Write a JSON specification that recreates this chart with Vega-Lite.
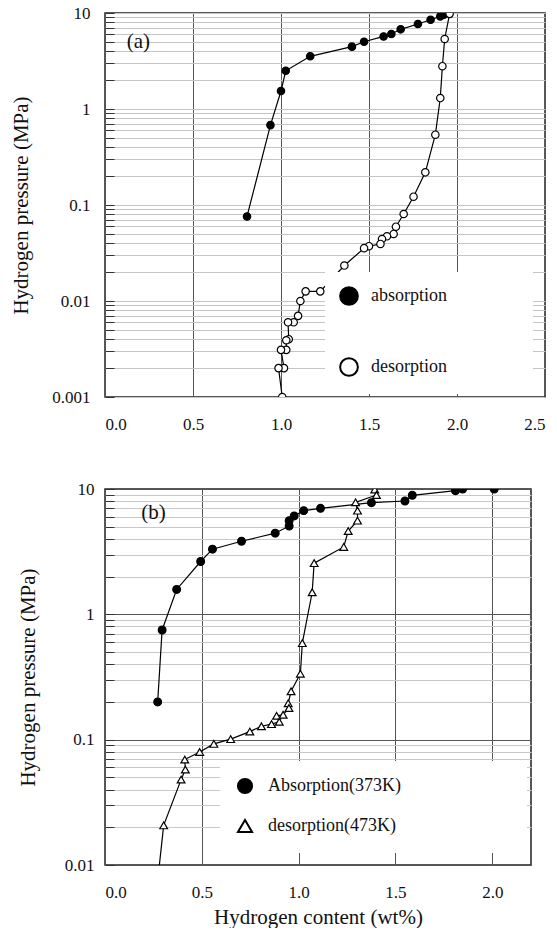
{
  "$schema": "https://vega.github.io/schema/vega-lite/v6.json",
  "background": "white",
  "padding": {"left": 10, "top": 3, "right": 0, "bottom": 0},
  "spacing": 46,
  "config": {
    "font": "Liberation Serif",
    "view": {"stroke": "#222", "strokeWidth": 1.5},
    "text": {"font": "Liberation Serif"},
    "axis": {
      "labelFont": "Liberation Serif", "titleFont": "Liberation Serif",
      "labelFontSize": 17, "titleFontSize": 21, "titleFontWeight": "normal",
      "labelColor": "#111", "titleColor": "#111", "domain": false, "grid": true
    },
    "legend": {"labelFont": "Liberation Serif"}
  },
  "datasets": {
    "a": [
      {"series": "absorption", "order": 1, "x": 0.807, "y": 0.076},
      {"series": "absorption", "order": 2, "x": 0.94, "y": 0.68},
      {"series": "absorption", "order": 3, "x": 1.0, "y": 1.54},
      {"series": "absorption", "order": 4, "x": 1.027, "y": 2.5},
      {"series": "absorption", "order": 5, "x": 1.166, "y": 3.54},
      {"series": "absorption", "order": 6, "x": 1.403, "y": 4.46},
      {"series": "absorption", "order": 7, "x": 1.472, "y": 5.02},
      {"series": "absorption", "order": 8, "x": 1.583, "y": 5.7},
      {"series": "absorption", "order": 9, "x": 1.627, "y": 6.04},
      {"series": "absorption", "order": 10, "x": 1.68, "y": 6.76},
      {"series": "absorption", "order": 11, "x": 1.778, "y": 7.68},
      {"series": "absorption", "order": 12, "x": 1.85, "y": 8.51},
      {"series": "absorption", "order": 13, "x": 1.905, "y": 9.23},
      {"series": "absorption", "order": 14, "x": 1.925, "y": 9.6},
      {"series": "desorption", "order": 1, "x": 1.958, "y": 9.8},
      {"series": "desorption", "order": 2, "x": 1.93, "y": 5.36},
      {"series": "desorption", "order": 3, "x": 1.917, "y": 2.79},
      {"series": "desorption", "order": 4, "x": 1.905, "y": 1.3},
      {"series": "desorption", "order": 5, "x": 1.877, "y": 0.54},
      {"series": "desorption", "order": 6, "x": 1.82, "y": 0.219},
      {"series": "desorption", "order": 7, "x": 1.753, "y": 0.122},
      {"series": "desorption", "order": 8, "x": 1.697, "y": 0.0806},
      {"series": "desorption", "order": 9, "x": 1.653, "y": 0.0594},
      {"series": "desorption", "order": 10, "x": 1.64, "y": 0.0499},
      {"series": "desorption", "order": 11, "x": 1.602, "y": 0.0472},
      {"series": "desorption", "order": 12, "x": 1.574, "y": 0.0442},
      {"series": "desorption", "order": 13, "x": 1.565, "y": 0.0393},
      {"series": "desorption", "order": 14, "x": 1.5, "y": 0.0372},
      {"series": "desorption", "order": 15, "x": 1.472, "y": 0.0355},
      {"series": "desorption", "order": 16, "x": 1.36, "y": 0.0234},
      {"series": "desorption", "order": 17, "x": 1.223, "y": 0.0126},
      {"series": "desorption", "order": 18, "x": 1.14, "y": 0.0126},
      {"series": "desorption", "order": 19, "x": 1.11, "y": 0.01},
      {"series": "desorption", "order": 20, "x": 1.097, "y": 0.007},
      {"series": "desorption", "order": 21, "x": 1.072, "y": 0.006},
      {"series": "desorption", "order": 22, "x": 1.04, "y": 0.006},
      {"series": "desorption", "order": 23, "x": 1.044, "y": 0.004},
      {"series": "desorption", "order": 24, "x": 1.03, "y": 0.0039},
      {"series": "desorption", "order": 25, "x": 1.03, "y": 0.0031},
      {"series": "desorption", "order": 26, "x": 1.0, "y": 0.0031},
      {"series": "desorption", "order": 27, "x": 1.017, "y": 0.002},
      {"series": "desorption", "order": 28, "x": 0.986, "y": 0.002},
      {"series": "desorption", "order": 29, "x": 1.007, "y": 0.001}
    ],
    "b": [
      {"series": "Absorption(373K)", "order": 1, "x": 0.272, "y": 0.2},
      {"series": "Absorption(373K)", "order": 2, "x": 0.295, "y": 0.75},
      {"series": "Absorption(373K)", "order": 3, "x": 0.37, "y": 1.58},
      {"series": "Absorption(373K)", "order": 4, "x": 0.494, "y": 2.64},
      {"series": "Absorption(373K)", "order": 5, "x": 0.555, "y": 3.31},
      {"series": "Absorption(373K)", "order": 6, "x": 0.705, "y": 3.83},
      {"series": "Absorption(373K)", "order": 7, "x": 0.879, "y": 4.44},
      {"series": "Absorption(373K)", "order": 8, "x": 0.951, "y": 5.07},
      {"series": "Absorption(373K)", "order": 9, "x": 0.951, "y": 5.59},
      {"series": "Absorption(373K)", "order": 10, "x": 0.977, "y": 6.1},
      {"series": "Absorption(373K)", "order": 11, "x": 1.026, "y": 6.72},
      {"series": "Absorption(373K)", "order": 12, "x": 1.113, "y": 7.01},
      {"series": "Absorption(373K)", "order": 13, "x": 1.376, "y": 7.78},
      {"series": "Absorption(373K)", "order": 14, "x": 1.549, "y": 8.02},
      {"series": "Absorption(373K)", "order": 15, "x": 1.587, "y": 8.91},
      {"series": "Absorption(373K)", "order": 16, "x": 1.81, "y": 9.7},
      {"series": "Absorption(373K)", "order": 17, "x": 1.847, "y": 10},
      {"series": "Absorption(373K)", "order": 18, "x": 2.01, "y": 10},
      {"series": "desorption(473K)", "order": 1, "x": 1.393, "y": 9.9},
      {"series": "desorption(473K)", "order": 2, "x": 1.402, "y": 8.96},
      {"series": "desorption(473K)", "order": 3, "x": 1.294, "y": 7.83},
      {"series": "desorption(473K)", "order": 4, "x": 1.304, "y": 6.72},
      {"series": "desorption(473K)", "order": 5, "x": 1.304, "y": 5.59},
      {"series": "desorption(473K)", "order": 6, "x": 1.256, "y": 4.62},
      {"series": "desorption(473K)", "order": 7, "x": 1.233, "y": 3.45},
      {"series": "desorption(473K)", "order": 8, "x": 1.08, "y": 2.56},
      {"series": "desorption(473K)", "order": 9, "x": 1.07, "y": 1.5},
      {"series": "desorption(473K)", "order": 10, "x": 1.019, "y": 0.589},
      {"series": "desorption(473K)", "order": 11, "x": 1.009, "y": 0.336},
      {"series": "desorption(473K)", "order": 12, "x": 0.961, "y": 0.243},
      {"series": "desorption(473K)", "order": 13, "x": 0.946, "y": 0.195},
      {"series": "desorption(473K)", "order": 14, "x": 0.95, "y": 0.179},
      {"series": "desorption(473K)", "order": 15, "x": 0.92, "y": 0.158},
      {"series": "desorption(473K)", "order": 16, "x": 0.886, "y": 0.155},
      {"series": "desorption(473K)", "order": 17, "x": 0.9, "y": 0.139},
      {"series": "desorption(473K)", "order": 18, "x": 0.86, "y": 0.133},
      {"series": "desorption(473K)", "order": 19, "x": 0.808, "y": 0.128},
      {"series": "desorption(473K)", "order": 20, "x": 0.748, "y": 0.116},
      {"series": "desorption(473K)", "order": 21, "x": 0.649, "y": 0.101},
      {"series": "desorption(473K)", "order": 22, "x": 0.562, "y": 0.0925},
      {"series": "desorption(473K)", "order": 23, "x": 0.489, "y": 0.0798},
      {"series": "desorption(473K)", "order": 24, "x": 0.412, "y": 0.0694},
      {"series": "desorption(473K)", "order": 25, "x": 0.415, "y": 0.0577},
      {"series": "desorption(473K)", "order": 26, "x": 0.393, "y": 0.048},
      {"series": "desorption(473K)", "order": 27, "x": 0.303, "y": 0.0207},
      {"series": "desorption(473K)", "order": 28, "x": 0.272, "y": 0.0075}
    ],
    "labels_a": [{"label": "(a)", "x": 0.19, "y": 5.0}],
    "labels_b": [{"label": "(b)", "x": 0.25, "y": 6.4}]
  },
  "vconcat": [
    {
      "width": 440, "height": 384,
      "encoding": {
        "x": {"field": "x", "type": "quantitative",
          "scale": {"domain": [0, 2.5], "nice": false, "zero": false},
          "axis": {"values": [0, 0.5, 1, 1.5, 2, 2.5], "format": ".1f", "title": null,
            "labelFont": "Liberation Serif", "labelFontSize": 17,
            "gridColor": "#555", "gridWidth": 1, "ticks": false, "labelPadding": 19}},
        "y": {"field": "y", "type": "quantitative",
          "scale": {"type": "log", "domain": [0.001, 10], "nice": false},
          "axis": {"values": [0.001,0.002,0.003,0.004,0.005,0.006,0.007,0.008,0.009,0.01,0.02,0.03,0.04,0.05,0.06,0.07,0.08,0.09,0.1,0.2,0.3,0.4,0.5,0.6,0.7,0.8,0.9,1,2,3,4,5,6,7,8,9,10],
            "format": "~g",
            "labelExpr": "abs(log(datum.value)/LN10 - round(log(datum.value)/LN10)) < 1e-6 ? datum.label : ''",
            "labelFont": "Liberation Serif", "labelFontSize": 17,
            "title": "Hydrogen pressure (MPa)", "titleFont": "Liberation Serif", "titleFontSize": 21, "titleFontWeight": "normal", "titlePadding": 20,
            "gridColor": "#c4c4c4", "gridWidth": 1,
            "ticks": true, "tickSize": -9, "tickColor": "#333", "labelPadding": 24}}
      },
      "layer": [
        {"data": {"name": "a"},
         "mark": {"type": "line", "color": "black", "strokeWidth": 1.2, "clip": true},
         "encoding": {"detail": {"field": "series"}, "order": {"field": "order", "type": "quantitative"}}},
        {"data": {"name": "a"},
         "mark": {"type": "point", "filled": true, "strokeWidth": 1.2, "size": 55, "opacity": 1, "clip": true},
         "encoding": {
           "shape": {"field": "series", "type": "nominal",
             "scale": {"domain": ["absorption", "desorption"], "range": ["circle", "circle"]},
             "legend": {"orient": "none", "legendX": 220, "legendY": 259, "direction": "vertical", "title": "\u2003", "titleOrient": "right", "titleFontSize": 8, "titlePadding": 72, "fillColor": "white", "padding": 14, "symbolSize": 314, "symbolStrokeWidth": 2, "labelFontSize": 18, "labelFont": "Liberation Serif", "labelColor": "#111", "labelOffset": 12, "rowPadding": 45}},
           "fill": {"field": "series", "type": "nominal",
             "scale": {"domain": ["absorption", "desorption"], "range": ["black", "white"]},
             "legend": {"orient": "none", "legendX": 220, "legendY": 259, "direction": "vertical", "title": "\u2003", "titleOrient": "right", "titleFontSize": 8, "titlePadding": 72, "fillColor": "white", "padding": 14, "symbolSize": 314, "symbolStrokeWidth": 2, "labelFontSize": 18, "labelFont": "Liberation Serif", "labelColor": "#111", "labelOffset": 12, "rowPadding": 45}},
           "stroke": {"field": "series", "type": "nominal",
             "scale": {"domain": ["absorption", "desorption"], "range": ["black", "black"]},
             "legend": {"orient": "none", "legendX": 220, "legendY": 259, "direction": "vertical", "title": "\u2003", "titleOrient": "right", "titleFontSize": 8, "titlePadding": 72, "fillColor": "white", "padding": 14, "symbolSize": 314, "symbolStrokeWidth": 2, "labelFontSize": 18, "labelFont": "Liberation Serif", "labelColor": "#111", "labelOffset": 12, "rowPadding": 45}}
         }},
        {"data": {"name": "labels_a"},
         "mark": {"type": "text", "fontSize": 21, "font": "Liberation Serif", "color": "#111"},
         "encoding": {"text": {"field": "label"}}}
      ]
    },
    {
      "width": 426, "height": 376,
      "encoding": {
        "x": {"field": "x", "type": "quantitative",
          "scale": {"domain": [0, 2.2], "nice": false, "zero": false},
          "axis": {"values": [0, 0.5, 1, 1.5, 2], "format": ".1f", "title": "Hydrogen content (wt%)",
            "labelFont": "Liberation Serif", "labelFontSize": 17,
            "titleFont": "Liberation Serif", "titleFontSize": 21, "titleFontWeight": "normal",
            "gridColor": "#555", "gridWidth": 1, "ticks": false, "labelPadding": 19, "titlePadding": 6}},
        "y": {"field": "y", "type": "quantitative",
          "scale": {"type": "log", "domain": [0.01, 10], "nice": false},
          "axis": {"values": [0.01,0.02,0.03,0.04,0.05,0.06,0.07,0.08,0.09,0.1,0.2,0.3,0.4,0.5,0.6,0.7,0.8,0.9,1,2,3,4,5,6,7,8,9,10],
            "format": "~g",
            "labelExpr": "abs(log(datum.value)/LN10 - round(log(datum.value)/LN10)) < 1e-6 ? datum.label : ''",
            "labelFont": "Liberation Serif", "labelFontSize": 17,
            "title": "Hydrogen pressure (MPa)", "titleFont": "Liberation Serif", "titleFontSize": 21, "titleFontWeight": "normal", "titlePadding": 26,
            "gridColor": {"condition": {"test": "abs(log(datum.value)/LN10 - round(log(datum.value)/LN10)) < 1e-6", "value": "#555"}, "value": "#c8c8c8"},
            "gridWidth": 1,
            "ticks": true, "tickSize": -9, "tickColor": "#333", "labelPadding": 20}}
      },
      "layer": [
        {"data": {"name": "b"},
         "mark": {"type": "line", "color": "black", "strokeWidth": 1.2, "clip": true},
         "encoding": {"detail": {"field": "series"}, "order": {"field": "order", "type": "quantitative"}}},
        {"data": {"name": "b"},
         "mark": {"type": "point", "filled": true, "strokeWidth": 1.2, "size": 60, "opacity": 1, "clip": true},
         "encoding": {
           "shape": {"field": "series", "type": "nominal",
             "scale": {"domain": ["Absorption(373K)", "desorption(473K)"], "range": ["circle", "triangle-up"]},
             "legend": {"orient": "none", "legendX": 115, "legendY": 272, "direction": "vertical", "title": "\u2003", "titleOrient": "right", "titleFontSize": 8, "titlePadding": 110, "fillColor": "white", "padding": 16, "symbolSize": 200, "symbolStrokeWidth": 2, "labelFontSize": 18, "labelFont": "Liberation Serif", "labelColor": "#111", "labelOffset": 14, "rowPadding": 17}},
           "fill": {"field": "series", "type": "nominal",
             "scale": {"domain": ["Absorption(373K)", "desorption(473K)"], "range": ["black", "white"]},
             "legend": {"orient": "none", "legendX": 115, "legendY": 272, "direction": "vertical", "title": "\u2003", "titleOrient": "right", "titleFontSize": 8, "titlePadding": 110, "fillColor": "white", "padding": 16, "symbolSize": 200, "symbolStrokeWidth": 2, "labelFontSize": 18, "labelFont": "Liberation Serif", "labelColor": "#111", "labelOffset": 14, "rowPadding": 17}},
           "stroke": {"field": "series", "type": "nominal",
             "scale": {"domain": ["Absorption(373K)", "desorption(473K)"], "range": ["black", "black"]},
             "legend": {"orient": "none", "legendX": 115, "legendY": 272, "direction": "vertical", "title": "\u2003", "titleOrient": "right", "titleFontSize": 8, "titlePadding": 110, "fillColor": "white", "padding": 16, "symbolSize": 200, "symbolStrokeWidth": 2, "labelFontSize": 18, "labelFont": "Liberation Serif", "labelColor": "#111", "labelOffset": 14, "rowPadding": 17}}
         }},
        {"data": {"name": "labels_b"},
         "mark": {"type": "text", "fontSize": 21, "font": "Liberation Serif", "color": "#111"},
         "encoding": {"text": {"field": "label"}}}
      ]
    }
  ],
  "resolve": {
    "scale": {"x": "independent", "y": "independent", "shape": "independent", "fill": "independent", "stroke": "independent"},
    "legend": {"shape": "independent", "fill": "independent", "stroke": "independent"}
  }
}
